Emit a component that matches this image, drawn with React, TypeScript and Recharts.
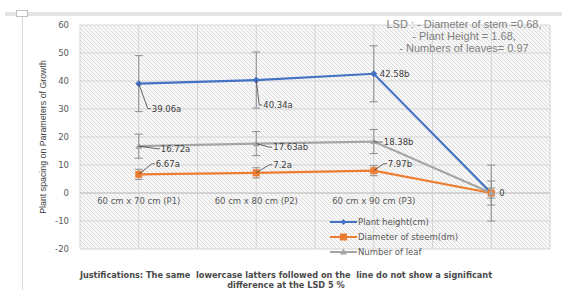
import React from "react";
import {
  LineChart,
  Line,
  XAxis,
  YAxis,
  CartesianGrid,
  ErrorBar,
  ReferenceLine,
  ReferenceDot,
} from "recharts";

const categories = ["60 cm x 70 cm (P1)", "60 cm x 80 cm (P2)", "60 cm x 90 cm (P3)", ""];
const plantHeight = [39.06, 40.34, 42.58, 0];
const plantHeightErr = [10, 10, 10, 10];
const stemDiameter = [6.67, 7.2, 7.97, 0];
const stemDiameterErr = [1.8, 1.8, 1.8, 1.8];
const leafCount = [16.72, 17.63, 18.38, 0];
const leafCountErr = [4.3, 4.3, 4.3, 4.3];
const plantLetters = ["a", "a", "b", ""];
const stemLetters = ["a", "a", "b", ""];
const leafLetters = ["a", "ab", "b", ""];
const yTicks = [-20, -10, 0, 10, 20, 30, 40, 50, 60];
const lsdLines = [
  "LSD : - Diameter of stem =0.68,",
  "- Plant Height = 1.68,",
  "- Numbers of leaves= 0.97",
];

const BLUE = "#4472C4";
const ORANGE = "#ED7D31";
const GRAY = "#A5A5A5";
const TEXT = "#595959";
const LABEL_FONT = "'DejaVu Sans', Verdana, sans-serif";

// where each data label sits relative to its point (null = hidden)
const plantLabelPos = [
  { dx: 13, dy: 25 },
  { dx: 7, dy: 25 },
  { dx: 6, dy: 0 },
  { dx: 8, dy: 0 },
];
const stemLabelPos = [
  { dx: 17, dy: -10.5 },
  { dx: 17, dy: -8 },
  { dx: 14, dy: -7 },
  null,
];
const leafLabelPos = [
  { dx: 22, dy: 2.5 },
  { dx: 17, dy: 3.5 },
  { dx: 10, dy: 0.5 },
  null,
];

const data = categories.map((cat, i) => ({
  cat,
  plant: plantHeight[i],
  plantErr: plantHeightErr[i],
  stem: stemDiameter[i],
  stemErr: stemDiameterErr[i],
  leaf: leafCount[i],
  leafErr: leafCountErr[i],
}));

function makeLabel(letters: string[], pos: ({ dx: number; dy: number } | null)[]) {
  return (props: any) => {
    const { x, y, index, value } = props;
    const p = pos[index];
    if (!p || x == null || y == null) return null;
    const tx = x + p.dx;
    const ty = y + p.dy;
    const leader = Math.abs(p.dx) > 8 || Math.abs(p.dy) > 3;
    return (
      <g key={`lbl-${index}`}>
        {leader && (
          <path
            d={`M${x},${y} L${tx - 4},${ty} L${tx - 1},${ty}`}
            stroke="#404040"
            strokeWidth={0.8}
            fill="none"
          />
        )}
        <text
          x={tx}
          y={ty}
          dominantBaseline="central"
          fontSize={8.5}
          fontFamily={LABEL_FONT}
          fill="#404040"
        >
          {`${value}${letters[index]}`}
        </text>
      </g>
    );
  };
}

const Diamond = (props: any) => {
  const { cx, cy } = props;
  if (cx == null || cy == null) return null;
  const s = 3;
  return (
    <path
      d={`M${cx},${cy - s} L${cx + s},${cy} L${cx},${cy + s} L${cx - s},${cy} Z`}
      fill={BLUE}
      stroke={BLUE}
    />
  );
};

const Square = (props: any) => {
  const { cx, cy } = props;
  if (cx == null || cy == null) return null;
  return <rect x={cx - 3.5} y={cy - 3.5} width={7} height={7} fill={ORANGE} />;
};

const Triangle = (props: any) => {
  const { cx, cy } = props;
  if (cx == null || cy == null) return null;
  return (
    <path
      d={`M${cx},${cy - 3.5} L${cx + 3.5},${cy + 2.5} L${cx - 3.5},${cy + 2.5} Z`}
      fill={GRAY}
    />
  );
};

const legendItems = [
  { name: "Plant height(cm)", color: BLUE, marker: "diamond" },
  { name: "Diameter of steem(dm)", color: ORANGE, marker: "square" },
  { name: "Number of leaf", color: GRAY, marker: "triangle" },
];

function LegendMarker({ color, marker }: { color: string; marker: string }) {
  return (
    <svg width={27} height={8} style={{ display: "block" }}>
      <line x1={0} y1={4} x2={27} y2={4} stroke={color} strokeWidth={2} />
      {marker === "diamond" && <path d="M13.5,1 L16.5,4 L13.5,7 L10.5,4 Z" fill={color} />}
      {marker === "square" && <rect x={10} y={0.5} width={7} height={7} fill={color} />}
      {marker === "triangle" && <path d="M13.5,0.5 L17,6.5 L10,6.5 Z" fill={color} />}
    </svg>
  );
}

export default function App() {
  return (
    <div
      style={{
        position: "absolute",
        left: 0,
        top: 0,
        width: 562,
        height: 290,
        background: "#fff",
        overflow: "hidden",
      }}
    >
      {/* word page chrome */}
      <div style={{ position: "absolute", left: 5, top: 12, width: 557, height: 3.5, background: "#e4e4e4" }} />
      <div style={{ position: "absolute", left: 22, top: 15, width: 1, height: 275, background: "#d9d9d9" }} />
      <div
        style={{
          position: "absolute",
          left: 16,
          top: 10,
          width: 10,
          height: 5,
          border: "1px solid #c0c0c0",
          background: "#fff",
        }}
      />

      <div style={{ position: "absolute", left: 0, top: 0 }}>
        <LineChart
          width={562}
          height={290}
          data={data}
          margin={{ top: 25, right: 12, left: 0, bottom: 41 }}
        >
          <defs>
            <pattern id="hatch" width={4} height={4} patternUnits="userSpaceOnUse">
              <rect width={4} height={4} fill="#f8f8f8" />
              <path d="M-1,-1 L5,5 M3,-1 L5,1 M-1,3 L1,5" stroke="#d8d8d8" strokeWidth={0.9} />
            </pattern>
          </defs>
          <CartesianGrid
            fill="url(#hatch)"
            fillOpacity={1}
            stroke="#d4d4d4"
            strokeWidth={1}
            horizontalValues={yTicks}
            verticalCoordinatesGenerator={({ offset }: any) =>
              Array.from({ length: 9 }, (_, i) => offset.left + (i * offset.width) / 8)
            }
          />
          <XAxis dataKey="cat" scale="band" hide />
          <YAxis
            width={80}
            domain={[-20, 60]}
            ticks={yTicks}
            axisLine={false}
            tickLine={false}
            tickSize={0}
            tickMargin={11}
            tick={{ fill: TEXT, fontSize: 8.5, fontFamily: LABEL_FONT }}
            label={{
              value: "Plant spacing on Parameters of Growth",
              angle: -90,
              position: "center",
              dx: 3,
              style: {
                fill: "#404040",
                fontSize: 8.8,
                fontFamily: "'Liberation Sans Narrow', 'Arial Narrow', sans-serif",
                textAnchor: "middle",
              },
            }}
          />
          <ReferenceLine y={0} stroke="#c4c4c4" strokeWidth={1} />
          {categories.slice(0, 3).map((c) => (
            <ReferenceDot
              key={c}
              x={c}
              y={0}
              r={0}
              fill="none"
              stroke="none"
              label={{
                value: c,
                position: "bottom",
                offset: 5,
                style: { fill: TEXT, fontSize: 8.5, fontFamily: LABEL_FONT },
              }}
            />
          ))}
          <Line
            type="linear"
            dataKey="plant"
            stroke={BLUE}
            strokeWidth={2.2}
            dot={<Diamond />}
            activeDot={false}
            isAnimationActive={false}
            label={makeLabel(plantLetters, plantLabelPos)}
          >
            <ErrorBar dataKey="plantErr" width={4} stroke="#8c8c8c" strokeWidth={1} direction="y" />
          </Line>
          <Line
            type="linear"
            dataKey="stem"
            stroke={ORANGE}
            strokeWidth={2.2}
            dot={<Square />}
            activeDot={false}
            isAnimationActive={false}
            label={makeLabel(stemLetters, stemLabelPos)}
          >
            <ErrorBar dataKey="stemErr" width={4} stroke="#8c8c8c" strokeWidth={1} direction="y" />
          </Line>
          <Line
            type="linear"
            dataKey="leaf"
            stroke={GRAY}
            strokeWidth={2.2}
            dot={<Triangle />}
            activeDot={false}
            isAnimationActive={false}
            label={makeLabel(leafLetters, leafLabelPos)}
          >
            <ErrorBar dataKey="leafErr" width={4} stroke="#8c8c8c" strokeWidth={1} direction="y" />
          </Line>
        </LineChart>
      </div>

      {/* LSD note */}
      <div
        style={{
          position: "absolute",
          left: 364,
          top: 18,
          width: 200,
          textAlign: "center",
          fontFamily: "'Liberation Sans', Arial, sans-serif",
          fontSize: 11,
          lineHeight: "12px",
          color: "#7f7f7f",
        }}
      >
        {lsdLines.map((l) => (
          <div key={l}>{l}</div>
        ))}
      </div>

      {/* legend */}
      <div style={{ position: "absolute", left: 330, top: 214 }}>
        {legendItems.map((it) => (
          <div key={it.name} style={{ display: "flex", alignItems: "center", height: 15.3 }}>
            <LegendMarker color={it.color} marker={it.marker} />
            <span
              style={{
                marginLeft: 1,
                fontSize: 8.5,
                fontFamily: LABEL_FONT,
                color: TEXT,
                whiteSpace: "nowrap",
              }}
            >
              {it.name}
            </span>
          </div>
        ))}
      </div>

      {/* footnote */}
      <div
        style={{
          position: "absolute",
          left: 0,
          top: 271,
          width: 572,
          textAlign: "center",
          fontFamily: LABEL_FONT,
          fontWeight: "bold",
          fontSize: 8.2,
          lineHeight: "9.5px",
          color: "#4a4a4a",
          whiteSpace: "pre",
        }}
      >
        {"Justifications: The same  lowercase latters followed on the  line do not show a significant\ndifference at the LSD 5 %"}
      </div>
    </div>
  );
}
